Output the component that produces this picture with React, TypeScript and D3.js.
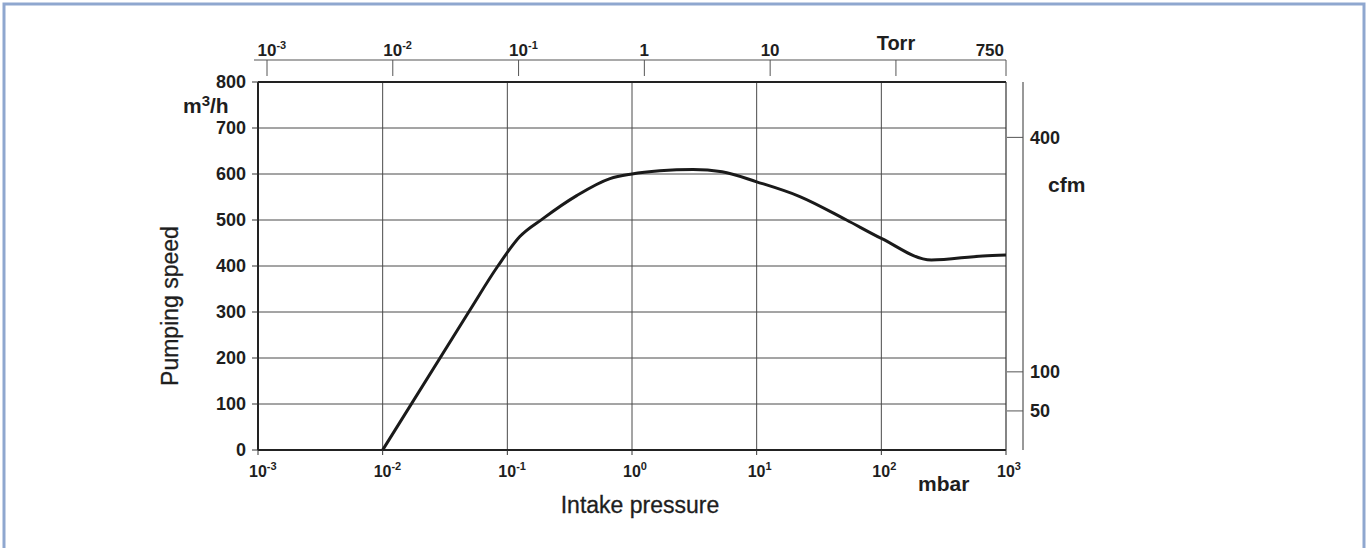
import * as d3 from 'd3';

// intake pressure (mbar) and pumping speed (m3/h)
const pressure = [0.01, 0.049, 0.084, 0.126, 0.193, 0.36, 0.666, 1.0, 1.67, 3.09, 5.28, 10, 22.2, 52.6, 100, 252, 652, 1000];
const speed = [0, 300, 400, 464, 503, 553, 590, 600, 607, 610, 605, 583, 551, 500, 460, 413, 422, 424];

const mbarTicks = [1e-3, 1e-2, 1e-1, 1e0, 1e1, 1e2, 1e3];
const mbarExp = ['-3', '-2', '-1', '0', '1', '2', '3'];
const speedTicks = [0, 100, 200, 300, 400, 500, 600, 700, 800];
const torrTicks = [1e-3, 1e-2, 1e-1, 1, 10, 100, 750];
const torrBase = ['10', '10', '10', '1', '10', '', '750'];
const torrExp = ['-3', '-2', '-1', '', '', '', ''];
const cfmTicks = [50, 100, 400];
const CFM_TO_M3H = 1.699;

const W = 1371;
const H = 548;
const left = 258, right = 1006, top = 82, bottom = 450;
const FONT = '"Liberation Sans", Arial, Helvetica, sans-serif';
const INK = '#1e1e1e';

export default function App() {
  const x = d3.scaleLog().domain([1e-3, 1e3]).range([left, right]);
  const y = d3.scaleLinear().domain([0, 800]).range([bottom, top]);
  const xTorr = d3.scaleLog().domain([1e-3, 750]).range([left + 9, right]);
  const cfmX = 1023;

  const pts = pressure.map((p, i) => [p, speed[i]] as [number, number]);
  const line = d3
    .line<[number, number]>()
    .x((d) => x(d[0]))
    .y((d) => y(d[1]))
    .curve(d3.curveMonotoneX);

  return (
    <svg
      width={W}
      height={H}
      style={{ position: 'absolute', left: 0, top: 0, background: '#fff' }}
      fontFamily={FONT}
    >
      <rect x={4} y={4} width={1360} height={600} fill="#fff" stroke="#8fa7cf" strokeWidth={3} />

      {/* grid */}
      {speedTicks.slice(1, -1).map((v) => (
        <line key={'h' + v} x1={left} x2={right} y1={y(v)} y2={y(v)} stroke="#4a4a4a" strokeWidth={1} />
      ))}
      {mbarTicks.slice(1, -1).map((v) => (
        <line key={'v' + v} x1={x(v)} x2={x(v)} y1={top} y2={bottom} stroke="#4a4a4a" strokeWidth={1} />
      ))}

      {/* frame */}
      <line x1={left} x2={right} y1={top} y2={top} stroke="#222" strokeWidth={2} />
      <line x1={left} x2={right} y1={bottom} y2={bottom} stroke="#222" strokeWidth={2} />
      <line x1={left} x2={left} y1={top} y2={bottom} stroke="#222" strokeWidth={2} />
      <line x1={right} x2={right} y1={top} y2={bottom} stroke="#333" strokeWidth={1.2} />

      {/* left axis */}
      {speedTicks.map((v) => (
        <g key={'yl' + v}>
          <line x1={left - 6} x2={left} y1={y(v)} y2={y(v)} stroke="#333" />
          <text
            x={left - 12}
            y={y(v)}
            dy="0.36em"
            textAnchor="end"
            fontSize={18}
            fontWeight="bold"
            fill={INK}
          >
            {v}
          </text>
        </g>
      ))}
      <text x={183} y={113} fontSize={21} fontWeight="bold" fill={INK}>
        m<tspan dy={-7} fontSize={15}>3</tspan>
        <tspan dy={7}>/h</tspan>
      </text>
      <text
        transform={`translate(178, ${(top + bottom) / 2 + 40}) rotate(-90)`}
        textAnchor="middle"
        fontSize={23}
        fill={INK}
        stroke={INK}
        strokeWidth={0.3}
      >
        Pumping speed
      </text>

      {/* bottom axis */}
      {mbarTicks.map((v, i) => (
        <g key={'xb' + v}>
          <line x1={x(v)} x2={x(v)} y1={bottom} y2={bottom + 5} stroke="#333" />
          <text x={x(v) - 9} y={477} fontSize={16} fontWeight="bold" fill={INK}>
            10<tspan dy={-7} fontSize={11}>{mbarExp[i]}</tspan>
          </text>
        </g>
      ))}
      <text x={918} y={491} fontSize={21} fontWeight="bold" fill={INK}>
        mbar
      </text>
      <text
        x={640}
        y={513}
        textAnchor="middle"
        fontSize={23}
        fill={INK}
        stroke={INK}
        strokeWidth={0.3}
      >
        Intake pressure
      </text>

      {/* top Torr axis */}
      <line x1={254} x2={right} y1={60} y2={60} stroke="#555" strokeWidth={1.2} />
      {torrTicks.map((t, i) => (
        <g key={'t' + t}>
          <line x1={xTorr(t)} x2={xTorr(t)} y1={60} y2={76} stroke="#555" />
          {torrBase[i] && (
            <text
              x={i === torrTicks.length - 1 ? xTorr(t) - 2 : xTorr(t) - (torrBase[i].length * 9.5) / 2}
              y={56}
              textAnchor={i === torrTicks.length - 1 ? 'end' : 'start'}
              fontSize={17}
              fontWeight="bold"
              fill={INK}
            >
              {torrBase[i]}
              {torrExp[i] && (
                <tspan dy={-7} fontSize={11}>
                  {torrExp[i]}
                </tspan>
              )}
            </text>
          )}
        </g>
      ))}
      <text x={xTorr(100)} y={50} textAnchor="middle" fontSize={20} fontWeight="bold" fill={INK}>
        Torr
      </text>

      {/* right cfm axis */}
      <line x1={cfmX} x2={cfmX} y1={top} y2={bottom} stroke="#333" strokeWidth={1} />
      {cfmTicks.map((c) => (
        <g key={'c' + c}>
          <line x1={right + 1} x2={cfmX} y1={y(c * CFM_TO_M3H)} y2={y(c * CFM_TO_M3H)} stroke="#555" />
          <text
            x={1030}
            y={y(c * CFM_TO_M3H)}
            dy="0.36em"
            fontSize={18}
            fontWeight="bold"
            fill={INK}
          >
            {c}
          </text>
        </g>
      ))}
      <text x={1048} y={192} fontSize={21} fontWeight="bold" fill={INK}>
        cfm
      </text>

      {/* curve */}
      <path d={line(pts) || ''} fill="none" stroke="#1a1a1a" strokeWidth={3} strokeLinejoin="round" />
    </svg>
  );
}
